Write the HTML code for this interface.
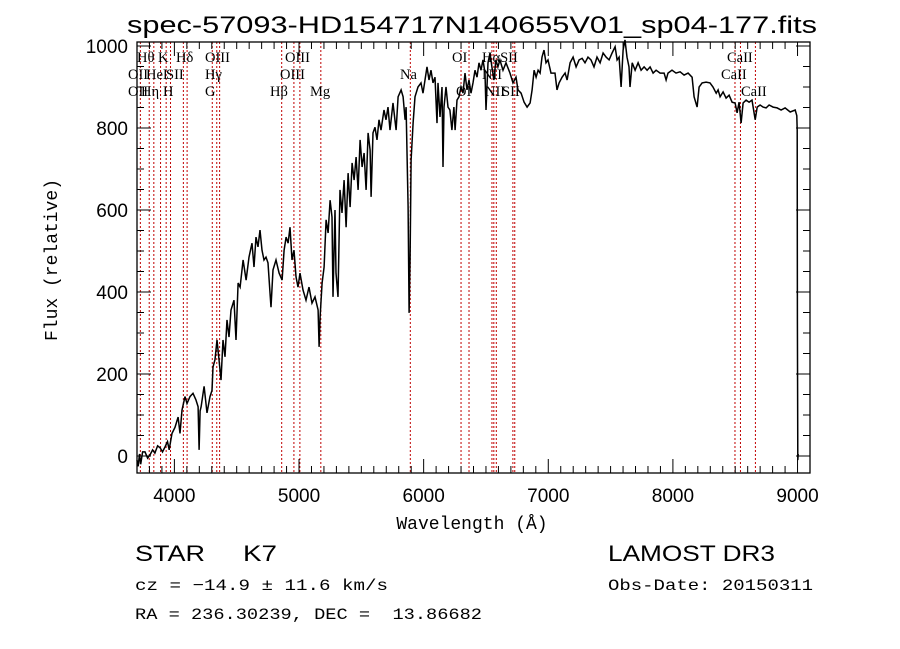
<!DOCTYPE html>
<html><head><meta charset="utf-8"><style>
html,body{margin:0;padding:0;background:#fff;}
svg{display:block;}
text{fill:#000;white-space:pre;}
</style></head><body>
<svg id="chart" width="900" height="649" xmlns="http://www.w3.org/2000/svg" xml:space="preserve">
<rect x="0" y="0" width="900" height="649" fill="#fff"/>
<text x="472" y="33" text-anchor="middle" font-family="Liberation Sans, sans-serif" font-size="24" textLength="690" lengthAdjust="spacingAndGlyphs">spec-57093-HD154717N140655V01_sp04-177.fits</text>
<g id="lines"></g>
<g id="spec"></g>
<g id="axes"></g>
<text x="472" y="529" text-anchor="middle" font-family="Liberation Mono, monospace" font-size="18">Wavelength (Å)</text>
<text transform="translate(57,260) rotate(-90)" text-anchor="middle" font-family="Liberation Mono, monospace" font-size="18">Flux (relative)</text>
<text x="135" y="561" font-family="Liberation Sans, sans-serif" font-size="22" textLength="70" lengthAdjust="spacingAndGlyphs">STAR</text>
<text x="243" y="561" font-family="Liberation Sans, sans-serif" font-size="22" textLength="34" lengthAdjust="spacingAndGlyphs">K7</text>
<text x="608" y="561" font-family="Liberation Sans, sans-serif" font-size="22" textLength="167" lengthAdjust="spacingAndGlyphs">LAMOST DR3</text>
<text x="135" y="590" font-family="Liberation Mono, monospace" font-size="16" textLength="253" lengthAdjust="spacingAndGlyphs">cz = −14.9 ± 11.6 km/s</text>
<text x="608" y="590" font-family="Liberation Mono, monospace" font-size="16" textLength="205" lengthAdjust="spacingAndGlyphs">Obs-Date: 20150311</text>
<text x="135" y="619" font-family="Liberation Mono, monospace" font-size="16" textLength="347" lengthAdjust="spacingAndGlyphs">RA = 236.30239, DEC =  13.86682</text>
</svg>
<script>
const wavelengths = [3700,3710,3720,3730,3745,3764,3785,3804,3825,3844,3865,3885,3905,3925,3945,3958,3965,3981,4005,4030,4045,4061,4085,4101,4125,4149,4173,4190,4198,4206,4214,4238,4262,4286,4302,4310,4326,4342,4358,4374,4390,4406,4422,4438,4454,4478,4494,4511,4527,4551,4575,4599,4623,4639,4655,4671,4687,4703,4719,4735,4751,4767,4775,4791,4815,4840,4864,4880,4896,4912,4928,4944,4960,4976,4992,5008,5032,5056,5080,5104,5128,5153,5161,5169,5185,5201,5217,5233,5249,5265,5273,5289,5297,5313,5329,5345,5362,5378,5394,5410,5426,5442,5458,5474,5490,5506,5522,5538,5554,5570,5578,5594,5610,5626,5642,5658,5682,5698,5714,5730,5754,5779,5795,5819,5835,5851,5859,5867,5875,5883,5891,5899,5915,5931,5955,5979,5995,6011,6027,6043,6059,6075,6091,6107,6115,6131,6147,6155,6163,6179,6195,6211,6227,6243,6252,6268,6284,6300,6316,6332,6348,6364,6380,6396,6412,6428,6444,6460,6476,6492,6500,6516,6532,6548,6564,6580,6596,6612,6637,6661,6693,6717,6741,6757,6782,6806,6830,6854,6870,6886,6902,6918,6934,6950,6966,6982,6998,7022,7054,7070,7087,7111,7135,7151,7175,7199,7223,7247,7271,7295,7319,7343,7367,7391,7416,7440,7464,7488,7512,7536,7552,7568,7584,7600,7616,7632,7648,7656,7673,7697,7721,7745,7769,7793,7817,7841,7865,7897,7929,7945,7961,7993,8025,8058,8090,8122,8154,8170,8194,8210,8234,8266,8298,8322,8347,8363,8379,8403,8427,8451,8475,8499,8515,8531,8547,8563,8587,8611,8635,8660,8676,8700,8724,8748,8772,8804,8836,8868,8900,8941,8981,8994,8997,8999,9002,9005];
const fluxValues = [-10,-25,5,-20,10,10,-5,3,15,7,25,20,10,22,35,15,27,55,70,95,55,112,145,128,145,153,137,120,15,110,120,170,105,145,160,217,235,283,235,185,283,242,332,290,356,380,283,422,412,478,429,485,519,461,534,510,551,502,478,485,471,398,363,454,478,446,429,502,534,519,558,478,502,437,412,446,405,380,412,373,388,356,266,339,422,461,576,544,624,583,388,600,446,388,649,593,673,558,690,607,715,673,729,649,771,705,739,649,788,746,632,788,802,771,820,795,844,820,851,795,861,795,876,893,876,820,851,729,607,349,485,722,812,876,900,910,885,917,949,917,941,910,924,812,910,827,900,705,851,900,851,844,795,851,795,868,876,900,885,934,893,917,885,910,941,924,959,941,966,934,844,959,983,949,917,966,949,966,941,959,934,910,924,893,885,863,851,861,893,941,924,941,934,973,990,959,966,934,934,893,910,924,934,917,959,973,949,966,970,959,973,966,949,973,959,983,973,966,983,998,966,973,900,990,1015,973,949,900,959,941,959,941,949,941,949,934,941,934,934,917,934,941,934,937,929,934,924,876,851,900,910,912,910,900,885,893,876,888,873,880,863,861,837,863,812,861,868,863,868,820,851,856,851,849,856,851,849,844,849,839,844,830,795,330,-10,5];
const lineWavelengths = [3727,3798,3835,3889,3934,3969,4072,4102,4304,4340,4363,4861,4959,5007,5175,5893,6300,6364,6548,6563,6583,6716,6731,8498,8542,8662];
const lineLabels = [
 {t:"Hθ",x:137,r:0},{t:"K",x:158,r:0},{t:"Hδ",x:176,r:0},{t:"OIII",x:205,r:0},{t:"OIII",x:285,r:0},{t:"OI",x:452,r:0},{t:"HαSII",x:482,r:0},{t:"CaII",x:727,r:0},
 {t:"OII",x:128,r:1},{t:"HeI",x:146,r:1},{t:"SII",x:166,r:1},{t:"Hγ",x:205,r:1},{t:"OIII",x:280,r:1},{t:"Na",x:400,r:1},{t:"NII",x:482,r:1},{t:"CaII",x:721,r:1},
 {t:"OII",x:128,r:2},{t:"Hη",x:141,r:2},{t:"H",x:163,r:2},{t:"G",x:205,r:2},{t:"Hβ",x:270,r:2},{t:"Mg",x:310,r:2},{t:"OI",x:456,r:2},{t:"NII",x:485,r:2},{t:"SII",x:502,r:2},{t:"CaII",x:741,r:2}
];
const xTicks = [4000,5000,6000,7000,8000,9000];
const yTicks = [0,200,400,600,800,1000];

const L=137,R=810,T=42,B=473, X0=3700,X1=9100, YS=0.41, Yz=456;
const NS="http://www.w3.org/2000/svg";
function xs(w){return L+(w-X0)*(R-L)/(X1-X0);}
function ys(f){return Yz-f*YS;}
function mk(tag,attrs,parent){const e=document.createElementNS(NS,tag);for(const k in attrs)e.setAttribute(k,attrs[k]);parent.appendChild(e);return e;}

const gl=document.getElementById('lines');
lineWavelengths.forEach(w=>{
  const e=mk('line',{x1:xs(w),x2:xs(w),y1:T,y2:B,stroke:'#c00000','stroke-width':1,'stroke-dasharray':'2,2'},gl);
  
  
});
const rowY=[62,79,96];
lineLabels.forEach(l=>{
  const e=mk('text',{x:l.x,y:rowY[l.r],'font-family':'Liberation Serif, serif','font-size':14.5},gl);
  e.textContent=l.t;
  
  
});

const gs=document.getElementById('spec');
let d='';
wavelengths.forEach((w,i)=>{d+=(i?'L':'M')+xs(w).toFixed(1)+','+Math.min(B,ys(fluxValues[i])).toFixed(1);});
const p=mk('path',{d:d,fill:'none',stroke:'#000','stroke-width':1.5,'stroke-linejoin':'miter'},gs);



const ga=document.getElementById('axes');
const fr=mk('rect',{x:L,y:T,width:R-L,height:B-T,fill:'none',stroke:'#000','stroke-width':1.3},ga);


for(let w=3700;w<=9100;w+=100){
  const maj=(w%1000===0), len=maj?14:7, x=xs(w);
  mk('line',{x1:x,x2:x,y1:B,y2:B-len,stroke:'#000','stroke-width':1},ga);
  mk('line',{x1:x,x2:x,y1:T,y2:T+len,stroke:'#000','stroke-width':1},ga);
}
xTicks.forEach(v=>{
  const e=mk('text',{x:xs(v),y:502,'text-anchor':'middle','font-family':'Liberation Sans, sans-serif','font-size':19},ga);
  e.textContent=v;
  
  
});
for(let f=-50;f<=1050;f+=50){
  const y=ys(f); if(y<T||y>B) continue;
  const maj=(f%200===0), len=maj?14:7;
  mk('line',{x1:L,x2:L+len,y1:y,y2:y,stroke:'#000','stroke-width':1},ga);
  mk('line',{x1:R,x2:R-len,y1:y,y2:y,stroke:'#000','stroke-width':1},ga);
}
yTicks.forEach(v=>{
  const e=mk('text',{x:128,y:ys(v)+7,'text-anchor':'end','font-family':'Liberation Sans, sans-serif','font-size':19},ga);
  e.textContent=v;
  
  
});
</script>
</body></html>
